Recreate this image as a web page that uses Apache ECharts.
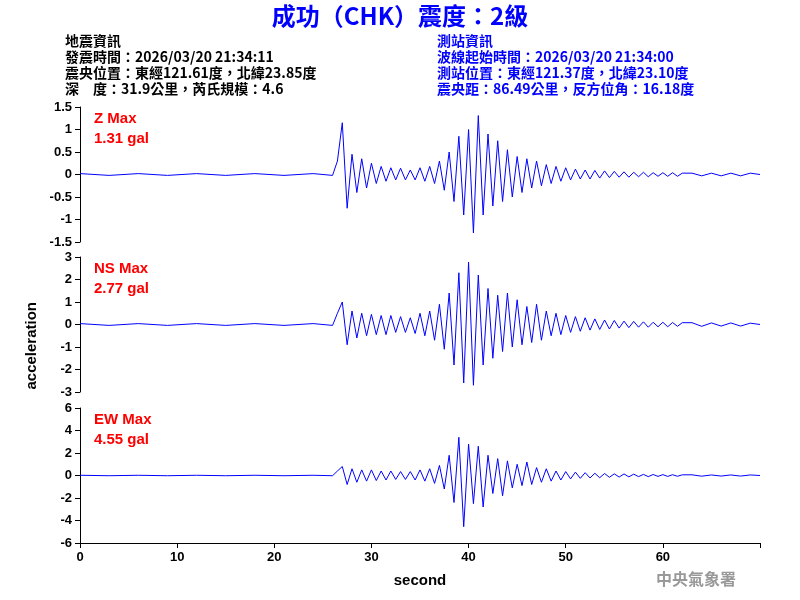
<!DOCTYPE html>
<html><head><meta charset="utf-8">
<script src="https://cdn.jsdelivr.net/npm/echarts@6/dist/echarts.min.js"></script>
<style>html,body{margin:0;background:#fff}#c{width:800px;height:600px}</style>
</head><body><div id="c"></div>
<script>
// 時間軸（秒）
var times = [0,3,6,9,12,15,18,21,24,26,
  26.5,27,27.5,28,28.5,29,29.5,30,30.5,31,31.5,32,32.5,33,33.5,34,34.5,35,35.5,36,36.5,37,37.5,
  38,38.5,39,39.5,40,40.5,41,41.5,42,42.5,43,43.5,44,44.5,45,45.5,46,46.5,47,47.5,48,48.5,49,49.5,
  50,50.5,51,51.5,52,52.5,53,53.5,54,54.5,55,55.5,56,56.5,57,57.5,58,58.5,59,59.5,60,60.5,61,61.5,62,
  63,64,65,66,67,68,69,70];

var zValues = [0.02,-0.02,0.02,-0.02,0.02,-0.02,0.02,-0.02,0.02,-0.02,
  0.3,1.15,-0.75,0.45,-0.4,0.35,-0.3,0.25,-0.2,0.18,-0.15,0.15,-0.12,0.14,-0.12,0.1,-0.12,0.15,-0.15,0.18,-0.2,0.3,-0.35,
  0.5,-0.6,0.85,-0.9,1.0,-1.3,1.31,-0.9,0.9,-0.7,0.75,-0.6,0.55,-0.5,0.4,-0.4,0.35,-0.3,0.3,-0.25,0.22,-0.2,0.18,-0.15,
  0.15,-0.12,0.12,-0.1,0.1,-0.1,0.09,-0.08,0.08,-0.07,0.07,-0.06,0.06,-0.06,0.05,-0.05,0.05,-0.05,0.04,-0.04,0.04,-0.04,0.04,-0.04,0.03,
  0.03,-0.03,0.03,-0.03,0.03,-0.03,0.03,0];

var nsValues = [0.04,-0.04,0.04,-0.04,0.04,-0.04,0.04,-0.04,0.04,-0.04,
  0.5,1.0,-0.9,0.6,-0.6,0.5,-0.5,0.45,-0.45,0.4,-0.45,0.4,-0.35,0.35,-0.35,0.3,-0.4,0.5,-0.5,0.6,-0.7,0.9,-1.1,
  1.4,-1.8,2.3,-2.6,2.77,-2.7,2.2,-1.8,1.6,-1.5,1.3,-1.2,1.4,-1.0,1.1,-0.9,0.8,-0.8,0.9,-0.7,0.6,-0.5,0.5,-0.45,
  0.4,-0.35,0.35,-0.3,0.3,-0.25,0.25,-0.22,0.2,-0.2,0.18,-0.16,0.15,-0.14,0.14,-0.12,0.12,-0.12,0.1,-0.1,0.1,-0.1,0.09,-0.08,0.08,
  0.08,-0.08,0.07,-0.07,0.07,-0.07,0.06,0];

var ewValues = [0.02,-0.02,0.02,-0.02,0.02,-0.02,0.02,-0.02,0.02,-0.02,
  0.4,0.8,-0.8,0.6,-0.6,0.5,-0.5,0.5,-0.45,0.4,-0.4,0.4,-0.35,0.35,-0.35,0.35,-0.4,0.5,-0.5,0.6,-0.7,0.9,-1.2,
  1.8,-2.4,3.4,-4.55,2.8,-2.5,2.6,-2.8,1.8,-1.6,1.5,-1.8,1.3,-1.1,1.0,-0.9,1.2,-0.8,0.7,-0.6,0.6,-0.5,0.4,-0.4,
  0.35,-0.3,0.3,-0.25,0.25,-0.22,0.2,-0.2,0.18,-0.16,0.15,-0.14,0.14,-0.12,0.12,-0.1,0.1,-0.1,0.09,-0.08,0.08,-0.08,0.07,-0.07,0.06,
  0.06,-0.06,0.05,-0.05,0.05,-0.05,0.05,0];

var panelNames = ['Z Max','NS Max','EW Max'];
var panelMax = ['1.31 gal','2.77 gal','4.55 gal'];
var yRanges = [[-1.5,1.5,0.5],[-3,3,1],[-6,6,2]];
var xTicks = [0,10,20,30,40,50,60];

var font = '"Liberation Sans", Arial, sans-serif';
var cjk = '"Noto Sans CJK TC", sans-serif';
var allValues = [zValues, nsValues, ewValues];
var tops = [107, 257, 408];

var grids = [], xAxes = [], yAxes = [], series = [];
for (var i = 0; i < 3; i++) {
  grids.push({left: 80, right: 40, top: tops[i], height: 135});
  xAxes.push({
    type: 'value', gridIndex: i, min: 0, max: 70, interval: 10,
    show: i === 2,
    axisLine: {onZero: false, lineStyle: {color: '#000'}},
    axisTick: {lineStyle: {color: '#000'}},
    splitLine: {show: false},
    axisLabel: {color: '#000', fontFamily: font, fontSize: 13, fontWeight: 'bold',
      formatter: function (v) { return xTicks.indexOf(v) >= 0 ? v : ''; }},
    name: i === 2 ? 'second' : '', nameLocation: 'middle', nameGap: 30,
    nameTextStyle: {color: '#000', fontFamily: font, fontSize: 15, fontWeight: 'bold'}
  });
  yAxes.push({
    type: 'value', gridIndex: i, min: yRanges[i][0], max: yRanges[i][1], interval: yRanges[i][2],
    axisLine: {show: true, onZero: false, lineStyle: {color: '#000'}},
    axisTick: {show: true, lineStyle: {color: '#000'}},
    splitLine: {show: false},
    axisLabel: {color: '#000', fontFamily: font, fontSize: 13, fontWeight: 'bold'}
  });
  series.push({
    type: 'line', xAxisIndex: i, yAxisIndex: i, symbol: 'none',
    lineStyle: {color: '#0000ff', width: 1},
    data: times.map(function (t, k) { return [t, allValues[i][k]]; })
  });
}

var graphic = [
  {type: 'text', left: 'center', top: 4, style: {text: '成功（CHK）震度：2級', fill: '#0000ff', font: 'bold 24px ' + cjk}},
  {type: 'text', left: 65, top: 33, style: {text: '地震資訊\n發震時間：2026/03/20 21:34:11\n震央位置：東經121.61度，北緯23.85度\n深　度：31.9公里，芮氏規模：4.6', fill: '#000', font: 'bold 14px ' + cjk, lineHeight: 16}},
  {type: 'text', left: 437, top: 33, style: {text: '測站資訊\n波線起始時間：2026/03/20 21:34:00\n測站位置：東經121.37度，北緯23.10度\n震央距：86.49公里，反方位角：16.18度', fill: '#0000ff', font: 'bold 14px ' + cjk, lineHeight: 16}},
  {type: 'text', left: 24, top: 302, rotation: Math.PI / 2, style: {text: 'acceleration', fill: '#000', font: 'bold 15px ' + font, align: 'center', verticalAlign: 'middle'}},
  {type: 'text', left: 656, top: 571, style: {text: '中央氣象署', fill: '#999', font: 'bold 16px ' + cjk}}
];
for (var j = 0; j < 3; j++) {
  graphic.push({type: 'text', left: 94, top: tops[j] + 2, style: {text: panelNames[j] + '\n' + panelMax[j], fill: '#ff0000', font: 'bold 15px ' + font, lineHeight: 20}});
}

var chart = echarts.init(document.getElementById('c'));
chart.setOption({
  animation: false,
  grid: grids, xAxis: xAxes, yAxis: yAxes, series: series, graphic: graphic
});
</script>
</body></html>
